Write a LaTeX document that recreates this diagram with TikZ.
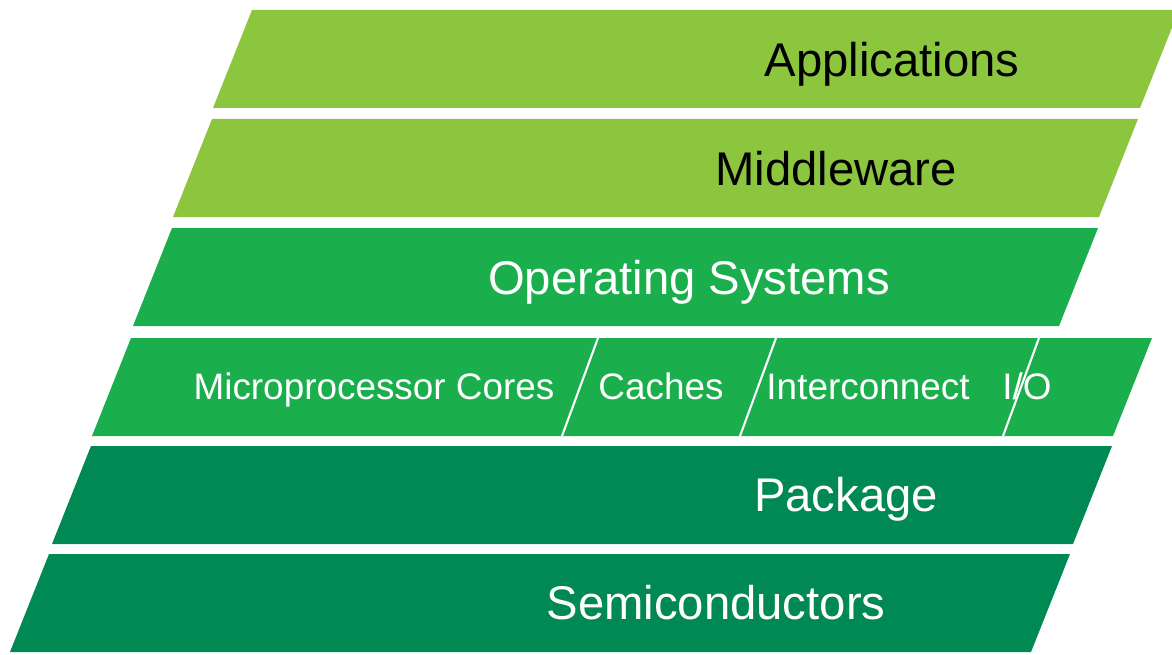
\documentclass[tikz,border=0pt]{standalone}
\usepackage{fontspec}
\setmainfont{Liberation Sans}
\usetikzlibrary{positioning,calc}
\definecolor{lightgreen}{HTML}{8CC63F}
\definecolor{midgreen}{HTML}{1AAE4C}
\definecolor{darkgreen}{HTML}{008953}

\begin{document}
\begin{tikzpicture}[x=0.02cm,y=-0.02cm,
    big/.style={anchor=base,font=\fontsize{26.9}{30}\selectfont},
    small/.style={anchor=base,text=white,font=\fontsize{21}{24}\selectfont},
    divider/.style={draw=white,line width=1.2pt}]
    \useasboundingbox (0,0) rectangle (1172,655);
    % layers: top y / top left x / top right x / colour
    \foreach \y/\l/\r/\c in {10/252/1179/lightgreen,119/212/1138/lightgreen,228/172/1098/midgreen,338/131/1152/midgreen,446/91/1112/darkgreen,554/49/1070/darkgreen}
        \fill[\c] (\l,\y) -- (\r,\y) -- ++(-39,98) -- (\l-39,\y+98) -- cycle;
    \node[big](apps) at (892,77){Applications};
    \node[big](mw) at (836,186){Middleware};
    \node[big,text=white](os) at (689,294){Operating Systems};
    \node[small](cores) at (374,399){Microprocessor Cores};
    \node[small](cache) at (661,399){Caches};
    \node[small](icon) at (868,399){Interconnect};
    \node[small](io) at (1027,399){I/O};
    \node[big,text=white](pkg) at (846,511){Package};
    \node[big,text=white](semi) at (716,619){Semiconductors};
    \draw[divider] (598,338) -- (562,436);
    \draw[divider] (776,338) -- (740,436);
    \draw[divider] (1039,338) -- (1003,436);
\end{tikzpicture}
\end{document}
